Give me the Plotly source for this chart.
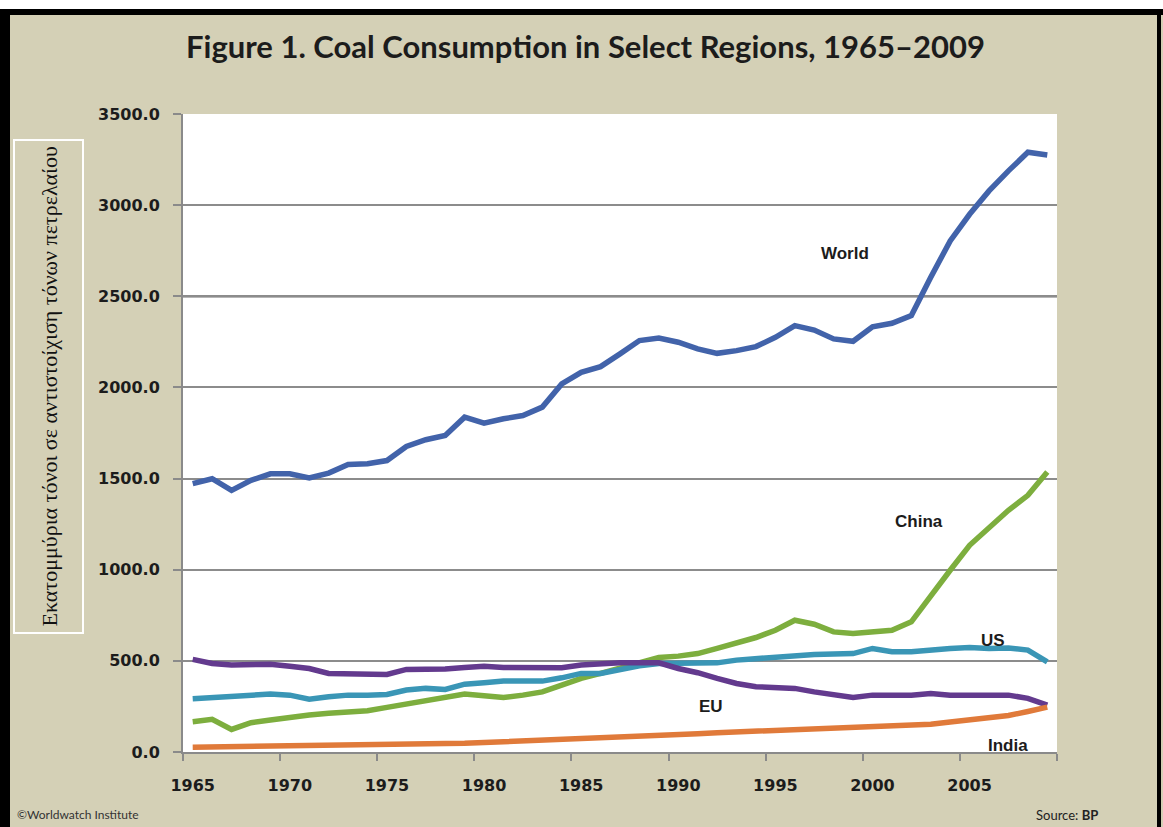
import plotly.graph_objects as go

# Coal consumption, million tonnes oil equivalent (BP)
years = list(range(1965, 2010))

world = [1472, 1499, 1435, 1490, 1526, 1526, 1504, 1530, 1577, 1581,
         1599, 1676, 1713, 1736, 1837, 1804, 1828, 1846, 1892, 2019,
         2083, 2114, 2184, 2257, 2271, 2248, 2211, 2187, 2202, 2224,
         2275, 2339, 2315, 2266, 2253, 2333, 2352, 2394, 2604, 2804,
         2950, 3078, 3188, 3290, 3275]

china = [166, 179, 124, 161, 175, 190, 203, 212, 221, 226,
         245, 263, 276, 294, 318, 309, 299, 312, 330, 367,
         404, 431, 458, 486, 518, 526, 540, 568, 595, 628,
         668, 723, 701, 659, 650, 659, 668, 714, 860, 997,
         1134, 1231, 1326, 1408, 1536]

us = [292, 298, 303, 312, 318, 312, 290, 303, 312, 312,
      316, 340, 349, 343, 372, 380, 389, 389, 389, 407,
      431, 431, 453, 473, 486, 489, 486, 489, 504, 513,
      519, 531, 535, 537, 540, 568, 550, 550, 562, 568,
      573, 568, 571, 559, 495]

eu = [508, 486, 477, 477, 482, 471, 458, 431, 431, 427,
      425, 453, 453, 455, 464, 471, 464, 464, 464, 462,
      477, 486, 489, 489, 489, 458, 435, 404, 376, 358,
      354, 349, 330, 318, 299, 312, 312, 312, 321, 312,
      312, 312, 312, 294, 257]

india = [26, 27, 28, 29, 30, 31, 33, 35, 37, 38,
         40, 43, 45, 46, 48, 52, 56, 59, 62, 66,
         70, 75, 80, 88, 92, 96, 100, 106, 110, 115,
         122, 128, 133, 134, 136, 140, 143, 146, 152, 165,
         175, 185, 200, 222, 246]

series_names = ["World", "China", "US", "EU", "India"]
series_values = [world, china, us, eu, india]
series_colors = ["#4263AA", "#7DAE3E", "#3A96B6", "#633A8E", "#E07A3A"]

# label anchor (year, value) for each series name
label_years = [1998.6, 2002.4, 2006.2, 1991.7, 2007.0]
label_values = [2733, 1265, 613, 252, 38]

y_ticks = [0, 500, 1000, 1500, 2000, 2500, 3000, 3500]
x_label_years = [1965, 1970, 1975, 1980, 1985, 1990, 1995, 2000, 2005]
x_tick_marks = [1964.5, 1969.5, 1974.5, 1979.5, 1984.5, 1989.5, 1994.5,
                1999.5, 2004.5, 2009.5]

W, H = 1163, 827
L, R, T, B = 183, 106, 114, 75
PW, PH = W - L - R, H - T - B


def px(x):
    return (x - L) / PW


def py(y):
    return (H - B - y) / PH


BG = "#D4D0B6"
GRID = "#8C8C8C"
TEXT = "#1c1c1c"

fig = go.Figure()

for name, vals, col in zip(series_names, series_values, series_colors):
    fig.add_trace(go.Scatter(x=years, y=vals, mode="lines", name=name,
                             line=dict(color=col, width=5.5),
                             hoverinfo="x+y+name"))

for name, xv, yv in zip(series_names, label_years, label_values):
    fig.add_annotation(x=xv, y=yv, text=f"<b>{name}</b>", showarrow=False,
                       font=dict(family="Liberation Sans", size=17,
                                 color=TEXT),
                       xanchor="center", yanchor="middle")

shapes = []
# slightly heavier rule at 2500
shapes.append(dict(type="line", xref="paper", yref="y", x0=0, x1=1,
                   y0=2500, y1=2500, line=dict(color="#6f6f6f", width=2.5),
                   layer="below"))
# white strip above the frame
shapes.append(dict(type="rect", xref="paper", yref="paper",
                   x0=px(0), x1=px(W), y0=py(9), y1=py(0),
                   fillcolor="white", line=dict(width=0)))
# black outer frame
shapes.append(dict(type="rect", xref="paper", yref="paper",
                   x0=px(0), x1=px(W), y0=py(15), y1=py(9),
                   fillcolor="black", line=dict(width=0)))
shapes.append(dict(type="rect", xref="paper", yref="paper",
                   x0=px(0), x1=px(10), y0=py(H), y1=py(9),
                   fillcolor="black", line=dict(width=0)))
shapes.append(dict(type="rect", xref="paper", yref="paper",
                   x0=px(1157), x1=px(1161), y0=py(H), y1=py(9),
                   fillcolor="black", line=dict(width=0)))
# box around the vertical axis title
shapes.append(dict(type="rect", xref="paper", yref="paper",
                   x0=px(14), x1=px(83), y0=py(633), y1=py(140),
                   fillcolor=BG, line=dict(color="white", width=2)))

fig.add_annotation(xref="paper", yref="paper", x=px(49), y=py(386.5),
                   text="Εκατομμύρια τόνοι σε αντιστοίχιση τόνων πετρελαίου",
                   textangle=-90, showarrow=False,
                   font=dict(family="Liberation Serif", size=22, color="#111"),
                   xanchor="center", yanchor="middle")

fig.add_annotation(xref="paper", yref="paper", x=px(585), y=py(46),
                   text="<b>Figure 1. Coal Consumption in Select Regions, 1965–2009</b>",
                   showarrow=False,
                   font=dict(family="Lato", size=31, color=TEXT),
                   xanchor="center", yanchor="middle")

fig.add_annotation(xref="paper", yref="paper", x=px(15), y=py(815),
                   text="©Worldwatch Institute", showarrow=False,
                   font=dict(family="Lato", size=12, color="#333"),
                   xanchor="left", yanchor="middle")
fig.add_annotation(xref="paper", yref="paper", x=px(1100), y=py(815),
                   text="Source: <b>BP</b>", showarrow=False,
                   font=dict(family="Lato", size=13, color="#222"),
                   xanchor="right", yanchor="middle")

fig.update_layout(
    width=W, height=H,
    margin=dict(l=L, r=R, t=T, b=B),
    paper_bgcolor=BG, plot_bgcolor="white",
    showlegend=False,
    shapes=shapes,
)

fig.update_xaxes(
    range=[1964.5, 2009.5],
    tickvals=x_label_years, ticktext=[str(v) for v in x_label_years],
    ticks="", showgrid=False, zeroline=False,
    showline=True, linecolor="#8a8a8a", linewidth=2,
    tickfont=dict(family="DejaVu Sans", size=16, color=TEXT, weight="bold"),
    ticklabelstandoff=18,
    minor=dict(tickvals=x_tick_marks, ticks="outside", ticklen=7,
               tickcolor="#8a8a8a", tickwidth=2, showgrid=False),
)

fig.update_yaxes(
    range=[0, 3500],
    tickvals=y_ticks, ticktext=[f"{v:.1f}" for v in y_ticks],
    ticks="outside", ticklen=8, tickcolor="#8a8a8a", tickwidth=1.5,
    showgrid=True, gridcolor=GRID, gridwidth=1.5, zeroline=False,
    showline=True, linecolor="#8a8a8a", linewidth=2,
    tickfont=dict(family="DejaVu Sans", size=16, color=TEXT, weight="bold"),
    ticklabelstandoff=10,
)

fig.write_html("out.html")
